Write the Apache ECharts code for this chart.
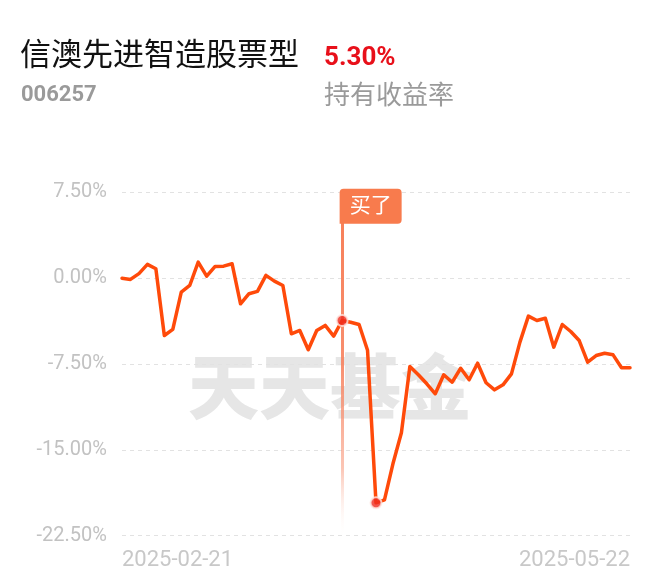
<!DOCTYPE html>
<html><head><meta charset="utf-8">
<script src="https://cdn.jsdelivr.net/npm/echarts@6/dist/echarts.min.js"></script>
<style>html,body{margin:0;padding:0;background:#fff}#c{width:660px;height:585px}</style>
</head><body><div id="c"></div>
<script>
const dates = [
  '2025-02-21','2025-02-24','2025-02-25','2025-02-26','2025-02-27','2025-02-28',
  '2025-03-03','2025-03-04','2025-03-05','2025-03-06','2025-03-07',
  '2025-03-10','2025-03-11','2025-03-12','2025-03-13','2025-03-14',
  '2025-03-17','2025-03-18','2025-03-19','2025-03-20','2025-03-21',
  '2025-03-24','2025-03-25','2025-03-26','2025-03-27','2025-03-28','2025-03-31',
  '2025-04-01','2025-04-02','2025-04-03',
  '2025-04-07','2025-04-08','2025-04-09','2025-04-10','2025-04-11',
  '2025-04-14','2025-04-15','2025-04-16','2025-04-17','2025-04-18',
  '2025-04-21','2025-04-22','2025-04-23','2025-04-24','2025-04-25',
  '2025-04-28','2025-04-29','2025-04-30',
  '2025-05-06','2025-05-07','2025-05-08','2025-05-09',
  '2025-05-12','2025-05-13','2025-05-14','2025-05-15','2025-05-16',
  '2025-05-19','2025-05-20','2025-05-21','2025-05-22'
];
const returns = [
  0.00, -0.11, 0.40, 1.20, 0.82, -5.01, -4.48, -1.22, -0.64, 1.40,
  0.17, 1.02, 1.05, 1.26, -2.24, -1.36, -1.16, 0.24, -0.26, -0.64,
  -4.86, -4.57, -6.26, -4.57, -4.13, -5.07, -3.70, -3.85, -4.05, -6.30,
  -19.63, -19.37, -16.22, -13.51, -7.72, -8.44, -9.23, -10.10, -8.44, -9.09,
  -7.87, -8.88, -7.43, -9.14, -9.76, -9.32, -8.36, -5.59, -3.32, -3.70,
  -3.50, -6.03, -4.05, -4.66, -5.45, -7.34, -6.76, -6.56, -6.70, -7.83, -7.83
];
const yMin = -22.5, yMax = 7.5, yStep = 7.5;
const buyIndex = 26;
const lowIndex = 30;
const buyLabel = '买了';
const fundName = '信澳先进智造股票型';
const fundCode = '006257';
const holdReturn = '5.30%';
const holdReturnLabel = '持有收益率';
const watermark = '天天基金';

const FONT = 'Roboto, "Noto Sans CJK SC", sans-serif';
const chart = echarts.init(document.getElementById('c'));
chart.setOption({
  animation: false,
  backgroundColor: '#fff',
  title: [
    {text: fundName, left: 20, top: 42, padding: 0,
     textStyle: {fontSize: 31, fontWeight: 'normal', color: '#111', fontFamily: FONT}},
    {text: holdReturn, left: 324, top: 45, padding: 0,
     textStyle: {fontSize: 26, fontWeight: 'bold', color: '#e8101a', fontFamily: FONT}},
    {text: fundCode, left: 21, top: 84, padding: 0,
     textStyle: {fontSize: 22, fontWeight: 'bold', color: '#9a9a9a', fontFamily: FONT}},
    {text: holdReturnLabel, left: 324, top: 84, padding: 0,
     textStyle: {fontSize: 26, fontWeight: 'normal', color: '#9a9a9a', fontFamily: FONT}}
  ],
  graphic: [{
    type: 'text', left: 188, top: 351, z: -10, silent: true,
    style: {text: watermark, fill: '#e6e6e6', font: '900 71px "Noto Sans CJK SC"'}
  }],
  grid: {left: 122, right: 30, top: 192.3, bottom: 49.3},
  xAxis: {
    type: 'category', data: dates, boundaryGap: false,
    axisLine: {show: false}, axisTick: {show: false}, splitLine: {show: false},
    axisLabel: {
      interval: (i) => i === 0 || i === dates.length - 1,
      alignMinLabel: 'left', alignMaxLabel: 'right',
      color: '#c8c8c8', fontSize: 22, margin: 14, fontFamily: FONT
    }
  },
  yAxis: {
    type: 'value', min: yMin, max: yMax, interval: yStep,
    axisLine: {show: false}, axisTick: {show: false},
    splitLine: {lineStyle: {color: '#e2e2e2', width: 1, type: [4, 4]}},
    axisLabel: {
      formatter: (v) => v.toFixed(2) + '%',
      color: '#c2c2c2', fontSize: 20, margin: 15, fontFamily: FONT
    }
  },
  series: [
    {
      type: 'line', data: returns, symbol: 'none', z: 3,
      lineStyle: {color: '#ff4a0a', width: 3.5, join: 'round', cap: 'round'},
      markLine: {
        silent: true, symbol: 'none', z: 2,
        label: {show: false},
        lineStyle: {
          width: 3, type: 'solid',
          color: new echarts.graphic.LinearGradient(0, 0, 0, 1, [
            {offset: 0, color: 'rgba(247,125,85,1)'},
            {offset: 0.5, color: 'rgba(247,130,95,0.9)'},
            {offset: 0.8, color: 'rgba(248,150,120,0.55)'},
            {offset: 1, color: 'rgba(255,255,255,0)'}
          ])
        },
        data: [[{coord: [dates[buyIndex], yMax]}, {coord: [dates[buyIndex], yMin]}]]
      },
      markPoint: {
        silent: true, symbol: 'circle', symbolSize: 1, z: 6,
        itemStyle: {color: 'rgba(0,0,0,0)'},
        label: {
          show: true, position: [-2, -3], formatter: buyLabel,
          color: '#fff', fontSize: 21, lineHeight: 21, fontFamily: FONT,
          backgroundColor: '#f87b4d', padding: [7, 10, 7, 10], borderRadius: [4, 4, 4, 0]
        },
        data: [{coord: [dates[buyIndex], yMax]}]
      }
    },
    {
      type: 'scatter', z: 5, symbol: 'circle', symbolSize: 11,
      itemStyle: {color: '#ef2a1e', borderColor: '#ffe9e4', borderWidth: 2},
      data: [[dates[buyIndex], returns[buyIndex]], [dates[lowIndex], returns[lowIndex]]]
    }
  ]
});
</script></body></html>
